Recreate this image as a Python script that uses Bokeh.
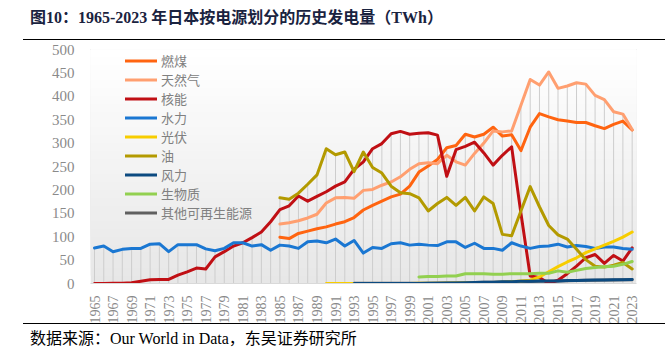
import math
from bokeh.plotting import figure
from bokeh.models import Range1d, FixedTicker, BoxAnnotation, Legend, LegendItem, Div
from bokeh.layouts import column
from bokeh.embed import file_html
from bokeh.resources import INLINE

# ---------------- data ----------------
years = [1965, 1966, 1967, 1968, 1969, 1970, 1971, 1972, 1973, 1974,
         1975, 1976, 1977, 1978, 1979, 1980, 1981, 1982, 1983, 1984,
         1985, 1986, 1987, 1988, 1989, 1990, 1991, 1992, 1993, 1994,
         1995, 1996, 1997, 1998, 1999, 2000, 2001, 2002, 2003, 2004,
         2005, 2006, 2007, 2008, 2009, 2010, 2011, 2012, 2013, 2014,
         2015, 2016, 2017, 2018, 2019, 2020, 2021, 2022, 2023]

x_tick_years = [1965, 1967, 1969, 1971, 1973, 1975, 1977, 1979, 1981, 1983,
                1985, 1987, 1989, 1991, 1993, 1995, 1997, 1999, 2001, 2003,
                2005, 2007, 2009, 2011, 2013, 2015, 2017, 2019, 2021, 2023]
x_tick_labels = ["1965", "1967", "1969", "1971", "1973", "1975", "1977", "1979", "1981", "1983",
                 "1985", "1987", "1989", "1991", "1993", "1995", "1997", "1999", "2001", "2003",
                 "2005", "2007", "2009", "2011", "2013", "2015", "2017", "2019", "2021", "2023"]
y_ticks = [0, 50, 100, 150, 200, 250, 300, 350, 400, 450, 500]
y_tick_labels = ["0", "50", "100", "150", "200", "250", "300", "350", "400", "450", "500"]

# TWh
coal_start = 1985
coal = [99, 96, 107, 112, 117, 121, 127, 132, 141, 157,
        167, 176, 185, 191, 208, 238, 251, 265, 290, 295,
        319, 313, 319, 334, 315, 318, 284, 334, 363, 356,
        350, 347, 344, 344, 337, 331, 340, 347, 328]

gas_start = 1985
gas = [127, 130, 134, 140, 148, 172, 183, 184, 182, 199,
       201, 210, 217, 228, 244, 256, 258, 256, 274, 260,
       253, 278, 300, 326, 324, 326, 381, 436, 424, 452,
       417, 422, 429, 426, 402, 393, 367, 362, 329]

nuclear_start = 1965
nuclear = [0, 0.2, 0.6, 0.8, 1.4, 4.6, 8, 8.5, 8.7, 18,
           25, 33, 31, 57, 68, 80, 87, 98, 110, 132,
           158, 166, 187, 176, 186, 196, 208, 217, 244, 260,
           288, 299, 320, 325, 319, 321, 322, 317, 229, 286,
           293, 302, 279, 253, 274, 292, 150, 16, 13, 0,
           7, 21, 37, 55, 62, 43, 60, 48, 76]

hydro_start = 1965
hydro = [76, 80, 68, 73, 75, 75, 84, 85, 68, 83,
         83, 83, 74, 70, 75, 87, 87, 80, 83, 71,
         82, 80, 75, 89, 91, 87, 95, 80, 92, 65,
         77, 75, 85, 87, 82, 84, 82, 81, 89, 89,
         77, 86, 75, 75, 71, 87, 80, 75, 79, 80,
         84, 78, 81, 79, 75, 78, 78, 75, 73]

solar_start = 1990
solar = [0.0, 0.0, 0.0, 0.0, 0.0, 0.0, 0.1, 0.1, 0.1, 0.1,
         0.3, 0.4, 0.6, 0.9, 1.1, 1.5, 1.8, 2.0, 2.2, 2.8,
         3.8, 5.2, 7, 14, 25, 36, 46, 55, 66, 74,
         82, 90, 99, 110]

oil_start = 1985
oil = [183, 180, 193, 212, 232, 288, 275, 281, 239, 281,
       248, 236, 208, 194, 192, 183, 155, 171, 184, 167,
       184, 155, 185, 171, 105, 102, 155, 207, 164, 124,
       104, 95, 73, 51, 37, 35, 39, 45, 31]

wind_start = 1993
wind = [0.0, 0.0, 0.0, 0.0, 0.0, 0.1, 0.1,
        0.1, 0.3, 0.4, 0.9, 1.3, 1.8, 2.2, 2.6, 2.9, 3.6,
        4.0, 4.6, 4.8, 5.2, 5.2, 5.6, 6.2, 6.5, 7.0, 7.3,
        7.6, 7.9, 8.2, 8.5]

biomass_start = 2000
biomass = [14, 15, 15, 16, 16, 21, 21, 21, 20, 20,
           21, 21, 21, 22, 22, 27, 24, 28, 32, 34,
           36, 37, 41, 47]

other_start = 1993
other = [0.6, 0.6, 0.6, 0.6, 0.6, 0.7, 0.7,
         0.7, 0.8, 0.9, 1.1, 1.4, 1.8, 2.1, 2.5, 2.8, 3.3,
         3.7, 4.2, 4.5, 4.9, 5.0, 5.4, 5.9, 6.3, 6.7, 7.0,
         7.3, 7.6, 7.9, 8.2]

series = [
    ("燃煤", coal_start, coal, "#ff6410"),
    ("天然气", gas_start, gas, "#ff9f70"),
    ("核能", nuclear_start, nuclear, "#c00f14"),
    ("水力", hydro_start, hydro, "#1a77d2"),
    ("光伏", solar_start, solar, "#f7cd00"),
    ("油", oil_start, oil, "#b39a00"),
    ("风力", wind_start, wind, "#0c4a80"),
    ("生物质", biomass_start, biomass, "#92d050"),
    ("其他可再生能源", other_start, other, "#606060"),
]

# ---------------- figure ----------------
px_per_year = 9.27
x_start = 1965 - 4 / px_per_year
frame_w = 546
frame_h = 234
p = figure(frame_width=frame_w, frame_height=frame_h,
           x_range=Range1d(x_start, x_start + frame_w / px_per_year),
           y_range=Range1d(0, 500),
           output_backend="svg", toolbar_location=None,
           min_border_left=90, min_border_right=665 - 90 - frame_w,
           min_border_top=7, min_border_bottom=40,
           background_fill_color="white", border_fill_color="white",
           outline_line_color=None, margin=(0, 0, 0, 0))

# background gradient of plot area (white top -> light grey bottom)
n_bands = 30
for i in range(n_bands):
    b = 500 * i / n_bands
    frac = i / (n_bands - 1)
    g = round(0xe7 + (0xff - 0xe7) * frac)
    col = "#%02x%02x%02x" % (g, g, g)
    p.add_layout(BoxAnnotation(bottom=b, top=500, fill_color=col, fill_alpha=1.0,
                               line_color=None, level="underlay"))

# drop lines: from 0 to the highest series value of each year
max_vals = []
for yr in years:
    vals = []
    for _, st, data, _ in series:
        k = yr - st
        if 0 <= k < len(data):
            vals.append(data[k])
    max_vals.append(max(vals))
p.segment(x0=years, y0=[0] * len(years), x1=years, y1=max_vals,
          line_color="#cdcdcd", line_width=1)

renderers = {}
draw_order = ["其他可再生能源", "燃煤", "天然气", "核能", "水力", "光伏", "油", "风力", "生物质"]
lookup = {s[0]: s for s in series}
for name in draw_order:
    _, st, data, col = lookup[name]
    xs = years[years.index(st):years.index(st) + len(data)]
    r = p.line(xs, data, line_color=col, line_width=3, line_join="round", line_cap="round")
    renderers[name] = r

legend = Legend(items=[LegendItem(label=s[0], renderers=[renderers[s[0]]]) for s in series],
                location=(35, 61), padding=0, margin=0, spacing=0,
                label_height=19, glyph_height=19, glyph_width=32, label_standoff=4,
                label_text_font="Noto Sans CJK SC", label_text_font_size="13px",
                label_text_color="#808080", background_fill_alpha=0,
                border_line_color=None)
p.add_layout(legend)

p.xgrid.visible = False
p.ygrid.visible = False

p.xaxis.ticker = FixedTicker(ticks=x_tick_years)
p.xaxis.major_label_overrides = dict(zip(x_tick_years, x_tick_labels))
p.xaxis.major_label_orientation = math.pi / 2
p.xaxis.major_label_text_font = "Liberation Serif"
p.xaxis.major_label_text_font_size = "14px"
p.xaxis.major_label_text_color = "#888888"
p.xaxis.major_label_standoff = 6
p.xaxis.axis_line_color = "#d9d9d9"
p.xaxis.major_tick_line_color = None
p.xaxis.minor_tick_line_color = None

p.yaxis.ticker = FixedTicker(ticks=y_ticks)
p.yaxis.major_label_overrides = dict(zip(y_ticks, y_tick_labels))
p.yaxis.major_label_text_font = "Liberation Serif"
p.yaxis.major_label_text_font_size = "15px"
p.yaxis.major_label_text_color = "#8a8a8a"
p.yaxis.major_label_standoff = 10
p.yaxis.axis_line_color = None
p.yaxis.major_tick_line_color = None
p.yaxis.minor_tick_line_color = None

FONT = "'Liberation Serif','Noto Sans CJK SC',serif"
title_html = (
    '<div style="position:relative;width:665px;height:42px;">'
    '<div style="position:absolute;left:30px;top:7px;font-family:' + FONT + ';'
    'font-weight:bold;font-size:16px;line-height:22px;color:#1a2340;white-space:nowrap;">'
    '图10：1965-2023 年日本按电源划分的历史发电量（TWh）</div>'
    '<div style="position:absolute;left:23px;width:642px;top:39px;height:0;'
    'border-top:1.5px solid #000;"></div></div>'
)
source_html = (
    '<div style="position:relative;width:665px;height:34px;">'
    '<div style="position:absolute;left:23px;width:642px;top:0px;height:0;'
    'border-top:1.5px solid #000;"></div>'
    '<div style="position:absolute;left:30px;top:5px;font-family:' + FONT + ';'
    'font-size:16px;line-height:22px;color:#000;white-space:nowrap;">'
    '数据来源：Our World in Data，东吴证券研究所</div></div>'
)
title_div = Div(text=title_html, width=665, height=42, margin=(0, 0, 0, 0))
source_div = Div(text=source_html, width=665, height=34, margin=(-3, 0, 0, 0))

layout = column(title_div, p, source_div, spacing=0, margin=(0, 0, 0, 0))

open("out.html", "w").write(file_html(layout, INLINE))
